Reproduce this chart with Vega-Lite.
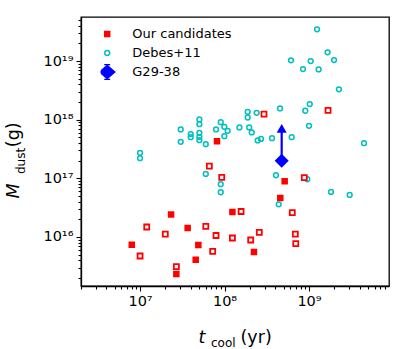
{
  "$schema": "https://vega.github.io/schema/vega-lite/v6.json",
  "width": 308,
  "height": 269,
  "autosize": "none",
  "padding": {"left": 81, "top": 17, "right": 18, "bottom": 63},
  "background": "white",
  "config": {
    "view": {"stroke": "black", "strokeWidth": 1.3},
    "font": "DejaVu Sans",
    "axis": {"grid": false, "domainColor": "black", "tickColor": "black", "labelColor": "black", "titleColor": "black", "titleFontWeight": "normal", "titleFont": "DejaVu Sans", "labelFont": "DejaVu Sans"}
  },
  "datasets": {
    "pts": [
      {"series": "Debes+11", "t": 3.03e7, "m": 6.82e17},
      {"series": "Debes+11", "t": 3.03e7, "m": 4.19e17},
      {"series": "Debes+11", "t": 3.98e7, "m": 5.68e17},
      {"series": "Debes+11", "t": 3.98e7, "m": 5.04e17},
      {"series": "Debes+11", "t": 5.04e7, "m": 1.01e18},
      {"series": "Debes+11", "t": 5.04e7, "m": 8.39e17},
      {"series": "Debes+11", "t": 5.04e7, "m": 5.97e17},
      {"series": "Debes+11", "t": 5.04e7, "m": 5.11e17},
      {"series": "Debes+11", "t": 5.04e7, "m": 4.48e17},
      {"series": "Debes+11", "t": 6.0e7, "m": 3.83e17},
      {"series": "Debes+11", "t": 7.93e7, "m": 6.82e17},
      {"series": "Debes+11", "t": 9.02e7, "m": 9.08e17},
      {"series": "Debes+11", "t": 9.95e7, "m": 7.55e17},
      {"series": "Debes+11", "t": 1.09e8, "m": 6.46e17},
      {"series": "Debes+11", "t": 9.95e7, "m": 5.24e17},
      {"series": "Debes+11", "t": 1.50e8, "m": 7.38e17},
      {"series": "Debes+11", "t": 1.88e8, "m": 1.36e18},
      {"series": "Debes+11", "t": 1.88e8, "m": 1.09e18},
      {"series": "Debes+11", "t": 2.40e8, "m": 1.31e18},
      {"series": "Debes+11", "t": 1.96e8, "m": 7.38e17},
      {"series": "Debes+11", "t": 2.10e8, "m": 6.07e17},
      {"series": "Debes+11", "t": 2.47e8, "m": 4.43e17},
      {"series": "Debes+11", "t": 2.70e8, "m": 4.71e17},
      {"series": "Debes+11", "t": 1.0e7, "m": 2.72e17},
      {"series": "Debes+11", "t": 1.0e7, "m": 2.21e17},
      {"series": "Debes+11", "t": 6.0e7, "m": 1.19e17},
      {"series": "Debes+11", "t": 9.02e7, "m": 7.94e16},
      {"series": "Debes+11", "t": 9.02e7, "m": 5.79e16},
      {"series": "Debes+11", "t": 1.245e9, "m": 3.48e19},
      {"series": "Debes+11", "t": 1.66e9, "m": 1.41e19},
      {"series": "Debes+11", "t": 6.12e8, "m": 1.03e19},
      {"series": "Debes+11", "t": 1.047e9, "m": 1.0e19},
      {"series": "Debes+11", "t": 8.49e8, "m": 7.30e18},
      {"series": "Debes+11", "t": 1.30e9, "m": 7.21e18},
      {"series": "Debes+11", "t": 1.98e9, "m": 1.04e19},
      {"series": "Debes+11", "t": 2.26e9, "m": 3.29e18},
      {"series": "Debes+11", "t": 1.02e9, "m": 1.85e18},
      {"series": "Debes+11", "t": 9.04e8, "m": 1.42e18},
      {"series": "Debes+11", "t": 4.54e8, "m": 1.56e18},
      {"series": "Debes+11", "t": 1.0e9, "m": 7.85e17},
      {"series": "Debes+11", "t": 6.24e8, "m": 5.04e17},
      {"series": "Debes+11", "t": 3.65e8, "m": 4.84e17},
      {"series": "Debes+11", "t": 4.48e9, "m": 3.98e17},
      {"series": "Debes+11", "t": 4.06e8, "m": 1.13e17},
      {"series": "Debes+11", "t": 9.55e8, "m": 9.66e16},
      {"series": "Debes+11", "t": 1.82e9, "m": 5.86e16},
      {"series": "Debes+11", "t": 3.03e9, "m": 5.21e16},
      {"series": "Debes+11", "t": 4.38e8, "m": 3.61e16},
      {"series": "Our candidates", "t": 8.15e7, "m": 4.31e17},
      {"series": "Our candidates", "t": 2.33e7, "m": 2.42e16},
      {"series": "Our candidates", "t": 3.66e7, "m": 1.43e16},
      {"series": "Our candidates", "t": 7.98e6, "m": 7.41e15},
      {"series": "Our candidates", "t": 4.90e7, "m": 7.31e15},
      {"series": "Our candidates", "t": 4.56e7, "m": 4.11e15},
      {"series": "Our candidates", "t": 2.69e7, "m": 2.33e15},
      {"series": "Our candidates", "t": 1.24e8, "m": 2.67e16},
      {"series": "Our candidates", "t": 2.23e8, "m": 5.55e15},
      {"series": "Our candidates", "t": 5.15e8, "m": 8.93e16},
      {"series": "Our candidates", "t": 4.57e8, "m": 4.63e16}
    ],
    "open": [
      {"t": 6.61e7, "m": 1.61e17},
      {"t": 9.27e7, "m": 1.04e17},
      {"t": 1.20e7, "m": 1.48e16},
      {"t": 1.99e7, "m": 1.12e16},
      {"t": 6.0e7, "m": 1.52e16},
      {"t": 7.93e7, "m": 1.06e16},
      {"t": 1.0e7, "m": 4.74e15},
      {"t": 7.24e7, "m": 5.70e15},
      {"t": 2.69e7, "m": 3.13e15},
      {"t": 1.24e8, "m": 9.62e15},
      {"t": 1.57e8, "m": 2.72e16},
      {"t": 2.04e8, "m": 8.89e15},
      {"t": 2.58e8, "m": 1.20e16},
      {"t": 2.93e8, "m": 1.24e18},
      {"t": 1.68e9, "m": 1.44e18},
      {"t": 8.79e8, "m": 1.03e17},
      {"t": 6.34e8, "m": 2.61e16},
      {"t": 6.89e8, "m": 1.12e16},
      {"t": 6.97e8, "m": 7.71e15}
    ],
    "g29": [
      {"t": 4.75e8, "m": 2.0e17, "m_lim": 7.1e17}
    ]
  },
  "resolve": {"axis": {"x": "independent", "y": "independent"}},
  "layer": [
    {
      "data": {"name": "pts"},
      "mark": {"type": "point", "size": 100, "strokeWidth": 1.5, "opacity": 1},
      "encoding": {
        "x": {
          "field": "t", "type": "quantitative",
          "scale": {"type": "log", "domain": [2.0e6, 8.85e9], "nice": false},
          "axis": {
            "orient": "bottom", "title": null,
            "values": [2e6, 3e6, 4e6, 5e6, 6e6, 7e6, 8e6, 9e6, 1e7, 2e7, 3e7, 4e7, 5e7, 6e7, 7e7, 8e7, 9e7, 1e8, 2e8, 3e8, 4e8, 5e8, 6e8, 7e8, 8e8, 9e8, 1e9, 2e9, 3e9, 4e9, 5e9, 6e9, 7e9, 8e9],
            "labelExpr": "datum.value == 1e7 ? '10⁷' : datum.value == 1e8 ? '10⁸' : datum.value == 1e9 ? '10⁹' : ''",
            "tickSize": {"condition": {"test": "datum.value == 1e7 || datum.value == 1e8 || datum.value == 1e9", "value": 5}, "value": 3},
            "labelFontSize": 14.5, "labelPadding": 3, "domainWidth": 1.3, "tickWidth": 1.1,
            "labelFlush": false, "labelOverlap": false, "labelBound": false
          }
        },
        "y": {
          "field": "m", "type": "quantitative",
          "scale": {"type": "log", "domain": [1.46e15, 5.64e19], "nice": false},
          "axis": {
            "orient": "left", "title": null,
            "values": [2e15, 3e15, 4e15, 5e15, 6e15, 7e15, 8e15, 9e15, 1e16, 2e16, 3e16, 4e16, 5e16, 6e16, 7e16, 8e16, 9e16, 1e17, 2e17, 3e17, 4e17, 5e17, 6e17, 7e17, 8e17, 9e17, 1e18, 2e18, 3e18, 4e18, 5e18, 6e18, 7e18, 8e18, 9e18, 1e19, 2e19, 3e19, 4e19, 5e19],
            "labelExpr": "datum.value == 1e16 ? '10¹⁶' : datum.value == 1e17 ? '10¹⁷' : datum.value == 1e18 ? '10¹⁸' : datum.value == 1e19 ? '10¹⁹' : ''",
            "tickSize": {"condition": {"test": "datum.value == 1e16 || datum.value == 1e17 || datum.value == 1e18 || datum.value == 1e19", "value": 5}, "value": 3},
            "labelFontSize": 14.5, "labelPadding": 3, "domainWidth": 1.3, "tickWidth": 1.1,
            "labelFlush": false, "labelOverlap": false, "labelBound": false
          }
        },
        "shape": {
          "field": "series", "type": "nominal", "title": null,
          "scale": {"domain": ["Our candidates", "Debes+11", "G29-38"], "range": ["M-0.5,-0.5H0.5V0.5H-0.5Z", "M-0.48,0A0.48,0.48,0,1,1,0.48,0A0.48,0.48,0,1,1,-0.48,0Z", "M-1.5,0L0,-1.3L1.5,0L0,1.3ZM0,-1.5V1.5M-0.6,-1.5H0.6M-0.6,1.5H0.6"]},
          "legend": {"orient": "none", "legendX": 19.7, "legendY": 9, "padding": 0, "symbolSize": 100, "symbolStrokeWidth": 1.5, "labelFontSize": 13, "labelFont": "DejaVu Sans", "labelColor": "black", "labelOffset": 18.6, "rowPadding": 3, "clipHeight": 16}
        },
        "fill": {
          "field": "series", "type": "nominal", "title": null,
          "scale": {"domain": ["Our candidates", "Debes+11", "G29-38"], "range": ["#ff0000", "transparent", "#0000ff"]},
          "legend": {"orient": "none", "legendX": 19.7, "legendY": 9, "padding": 0, "symbolSize": 100, "symbolStrokeWidth": 1.5, "labelFontSize": 13, "labelFont": "DejaVu Sans", "labelColor": "black", "labelOffset": 18.6, "rowPadding": 3, "clipHeight": 16}
        },
        "stroke": {
          "field": "series", "type": "nominal", "title": null,
          "scale": {"domain": ["Our candidates", "Debes+11", "G29-38"], "range": ["#ff0000", "#00bfbf", "#0000ff"]},
          "legend": {"orient": "none", "legendX": 19.7, "legendY": 9, "padding": 0, "symbolSize": 100, "symbolStrokeWidth": 1.5, "labelFontSize": 13, "labelFont": "DejaVu Sans", "labelColor": "black", "labelOffset": 18.6, "rowPadding": 3, "clipHeight": 16}
        }
      }
    },
    {
      "data": {"name": "open"},
      "mark": {"type": "point", "shape": "M-0.5,-0.5H0.5V0.5H-0.5Z", "size": 100, "fill": "white", "stroke": "#ff0000", "strokeWidth": 1.8, "opacity": 1},
      "encoding": {
        "x": {"field": "t", "type": "quantitative", "axis": {"orient": "bottom", "title": "t", "titleFontStyle": "italic", "titleFontSize": 17.5, "labels": false, "ticks": false, "domain": false, "titleX": 117, "titleY": 56.5, "titleAlign": "left", "titleBaseline": "alphabetic", "titleAngle": 0}},
        "y": {"field": "m", "type": "quantitative", "axis": {"orient": "left", "title": "M", "titleFontStyle": "italic", "titleFontSize": 17.5, "labels": false, "ticks": false, "domain": false, "titleX": -62.6, "titleY": 181, "titleAlign": "left", "titleBaseline": "alphabetic", "titleAngle": -90}}
      }
    },
    {
      "data": {"name": "g29"},
      "mark": {"type": "rule", "color": "#0000ff", "strokeWidth": 2.2},
      "encoding": {
        "x": {"field": "t", "type": "quantitative", "axis": {"orient": "bottom", "title": "cool", "titleFontSize": 12, "labels": false, "ticks": false, "domain": false, "titleX": 129.5, "titleY": 60, "titleAlign": "left", "titleBaseline": "alphabetic", "titleAngle": 0}},
        "y": {"field": "m", "type": "quantitative", "axis": {"orient": "left", "title": "dust", "titleFontSize": 12, "labels": false, "ticks": false, "domain": false, "titleX": -57, "titleY": 156.5, "titleAlign": "left", "titleBaseline": "alphabetic", "titleAngle": -90}},
        "y2": {"field": "m_lim"}
      }
    },
    {
      "data": {"name": "g29"},
      "mark": {"type": "point", "shape": "triangle-up", "size": 100, "filled": true, "color": "#0000ff", "opacity": 1},
      "encoding": {
        "x": {"field": "t", "type": "quantitative", "axis": {"orient": "bottom", "title": "(yr)", "titleFontSize": 17.5, "labels": false, "ticks": false, "domain": false, "titleX": 159, "titleY": 56.5, "titleAlign": "left", "titleBaseline": "alphabetic", "titleAngle": 0}},
        "y": {"field": "m_lim", "type": "quantitative", "axis": {"orient": "left", "title": "(g)", "titleFontSize": 17.5, "labels": false, "ticks": false, "domain": false, "titleX": -62.6, "titleY": 129.7, "titleAlign": "left", "titleBaseline": "alphabetic", "titleAngle": -90}}
      }
    },
    {
      "data": {"name": "g29"},
      "mark": {"type": "point", "shape": "diamond", "size": 196, "filled": true, "color": "#0000ff", "strokeWidth": 1, "opacity": 1},
      "encoding": {
        "x": {"field": "t", "type": "quantitative", "axis": null},
        "y": {"field": "m", "type": "quantitative", "axis": null}
      }
    }
  ]
}
